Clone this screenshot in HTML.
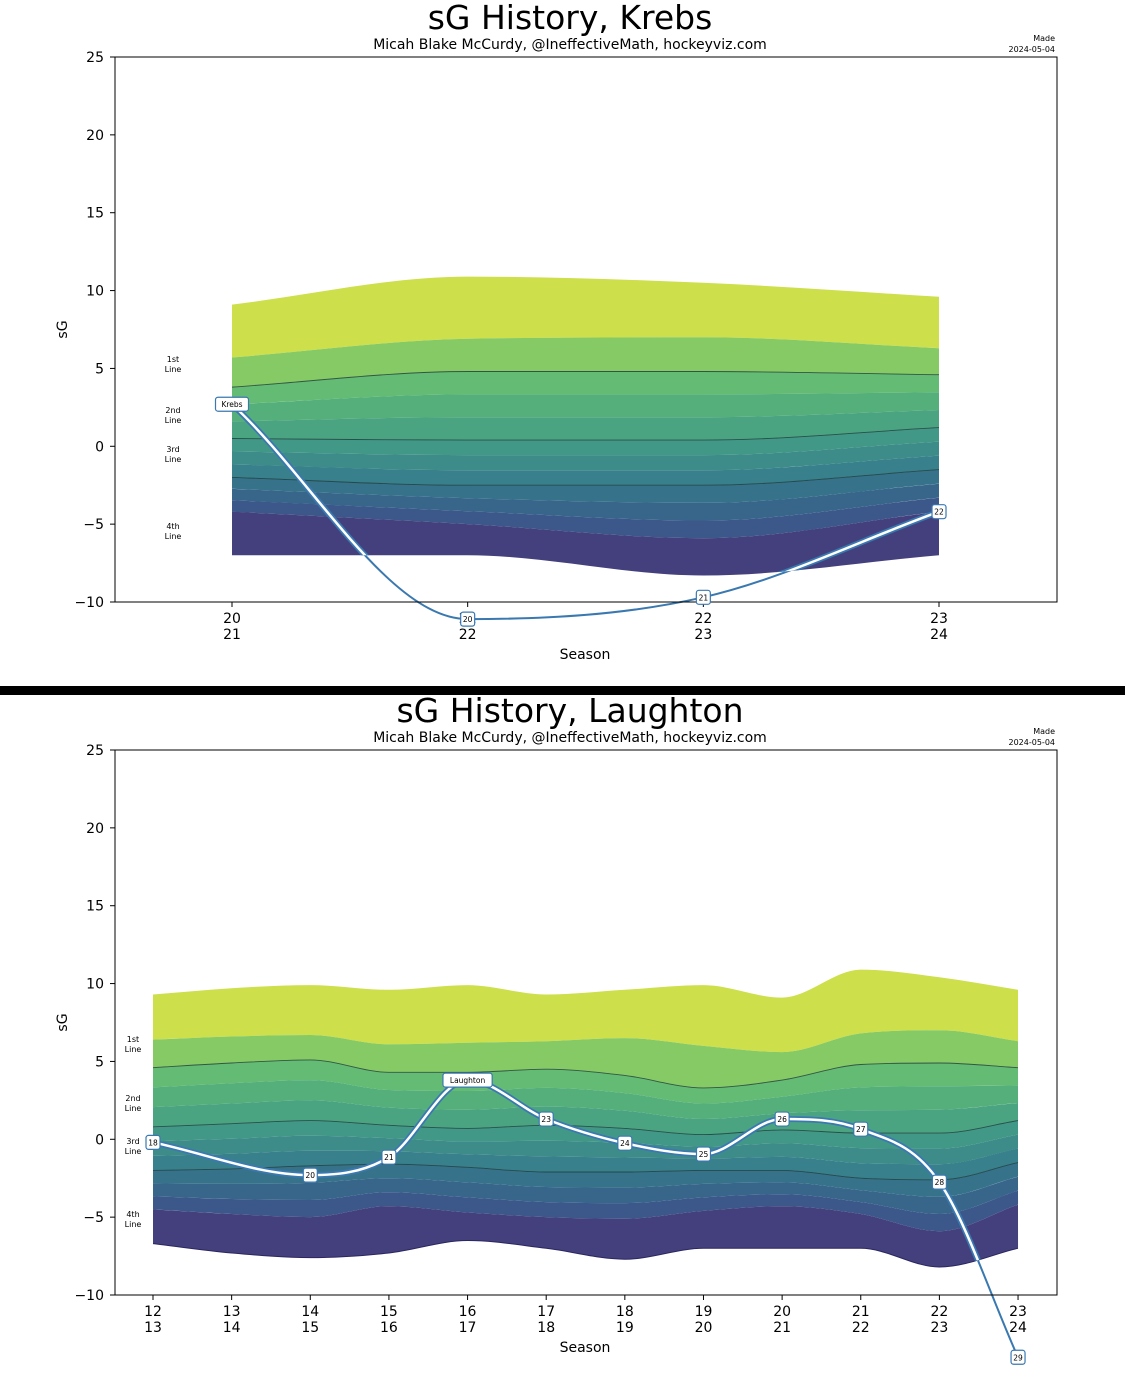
<!DOCTYPE html>
<html><head><meta charset="utf-8"><style>
body{margin:0;background:#fff;width:1125px;height:1378px;overflow:hidden;font-family:"DejaVu Sans",sans-serif}
svg{position:absolute;left:0;top:0}
</style></head><body>
<svg id="s" width="1125" height="1378" xmlns="http://www.w3.org/2000/svg" font-family="DejaVu Sans, sans-serif"></svg>
<script>
const S=document.getElementById('s');let H='';
const cols=['#cddf4b','#86ca66','#64bb74','#55af7b','#4ba481','#429887','#3d8c89','#38808b','#36738b','#38668b','#3c588a','#43407d'];
function curve(pts){
 const n=pts.length;const dx=[],s=[];for(let i=0;i<n-1;i++){dx.push(pts[i+1][0]-pts[i][0]);s.push((pts[i+1][1]-pts[i][1])/dx[i]);}
 const m=new Array(n);m[0]=s[0];m[n-1]=s[n-2];
 for(let i=1;i<n-1;i++){m[i]=(s[i-1]*s[i]<=0)?0:(s[i-1]+s[i])/2;}
 for(let i=0;i<n-1;i++){if(s[i]===0){m[i]=0;m[i+1]=0;continue;}const a=m[i]/s[i],b=m[i+1]/s[i],h=a*a+b*b;if(h>9){const t=3/Math.sqrt(h);m[i]=t*a*s[i];m[i+1]=t*b*s[i];}}
 let d='';
 for(let i=0;i<n-1;i++){const p1=pts[i],p2=pts[i+1],h=dx[i];
  d+=` C${(p1[0]+h/3).toFixed(1)},${(p1[1]+m[i]*h/3).toFixed(1)} ${(p2[0]-h/3).toFixed(1)},${(p2[1]-m[i+1]*h/3).toFixed(1)} ${p2[0].toFixed(1)},${p2[1].toFixed(1)}`;}
 return d;}
function chart(o){
 const top=o.top,bot=top+545,Y=v=>bot-(v+10)*545/35,X=i=>o.x0+i*o.dx,n=o.T.length;
 H+=`<text x="570" y="${top-28}" font-size="33" text-anchor="middle">${o.title}</text>`;
 H+=`<text x="570" y="${top-8}" font-size="14" text-anchor="middle">Micah Blake McCurdy, @IneffectiveMath, hockeyviz.com</text>`;
 H+=`<text x="1055" y="${top-16}" font-size="8" text-anchor="end">Made</text><text x="1055" y="${top-5}" font-size="8" text-anchor="end">2024-05-04</text>`;
 const B=[o.T,o.b1,o.L1];const lerp=(a,b,t)=>a.map((v,i)=>v+(b[i]-v)*t);
 for(const t of [1/3,2/3])B.push(lerp(o.L1,o.L2,t));B.push(o.L2);
 for(const t of [1/3,2/3])B.push(lerp(o.L2,o.L3,t));B.push(o.L3);
 for(const t of [1/3,2/3])B.push(lerp(o.L3,o.b4,t));B.push(o.b4);B.push(o.Bt);
 const P=a=>a.map((v,i)=>[X(i),Y(v)]);
 for(let k=0;k<B.length-1;k++){const up=P(B[k]),lo=P(B[k+1]).reverse();
  const d=`M${up[0][0]},${up[0][1]}`+curve(up)+` L${lo[0][0]},${lo[0][1]}`+curve(lo)+'Z';
  H+=`<path d="${d}" fill="${cols[k]}"/>`;}
 const up=P(o.T),lo=P(o.Bt).reverse();const clip=`M${up[0][0]},${up[0][1]}`+curve(up)+` L${lo[0][0]},${lo[0][1]}`+curve(lo)+'Z';
 H+=`<clipPath id="c${top}"><path d="${clip}"/></clipPath>`;
 for(const L of [o.L1,o.L2,o.L3]){const p=P(L);H+=`<path d="M${p[0][0]},${p[0][1]}${curve(p)}" fill="none" stroke="#1f3a3a" stroke-width="0.9" opacity="0.8"/>`;}
 if(o.BtLine){const p=P(o.Bt);H+=`<path d="M${p[0][0]},${p[0][1]}${curve(p)}" fill="none" stroke="#2a2660" stroke-width="1"/>`;}
 const pp=o.pl.map(q=>[X(q[0]),Y(q[1])]);const pd=`M${pp[0][0]},${pp[0][1]}`+curve(pp);
 H+=`<path d="${pd}" fill="none" stroke="#3a78b0" stroke-width="2"/>`;
 H+=`<g clip-path="url(#c${top})"><path d="${pd}" fill="none" stroke="#3a78b0" stroke-width="6"/><path d="${pd}" fill="none" stroke="#fff" stroke-width="2.5"/></g>`;
 H+=`<rect x="115" y="${top}" width="942" height="545" fill="none" stroke="#000" stroke-width="1"/>`;
 for(let v=-10;v<=25;v+=5){const y=Y(v);H+=`<line x1="110" x2="115" y1="${y}" y2="${y}" stroke="#000"/><text x="104" y="${y+5}" font-size="14" text-anchor="end">${v<0?'\u2212'+(-v):v}</text>`;}
 o.seasons.forEach((s,i)=>{const x=X(i);H+=`<line x1="${x}" x2="${x}" y1="${bot}" y2="${bot+5}" stroke="#000"/><text x="${x}" y="${bot+21}" font-size="14" text-anchor="middle">${s}</text><text x="${x}" y="${bot+37}" font-size="14" text-anchor="middle">${s+1}</text>`;});
 H+=`<text x="585" y="${bot+57}" font-size="14" text-anchor="middle">Season</text>`;
 H+=`<text x="67" y="${Y(7.5)}" font-size="14" text-anchor="middle" transform="rotate(-90 67 ${Y(7.5)})">sG</text>`;
 o.side.forEach(([a,y])=>{H+=`<text x="${o.sx}" y="${y}" font-size="8" text-anchor="middle">${a}</text><text x="${o.sx}" y="${y+10}" font-size="8" text-anchor="middle">Line</text>`;});
 o.pl.forEach((q,i)=>{const lab=q[2];const w=lab.length>2?lab.length*5.4+6:14;const x=X(q[0]),y=Y(q[1]);
  H+=`<rect x="${x-w/2}" y="${y-7}" width="${w}" height="14" rx="2.5" fill="#fff" stroke="#3a78b0" stroke-width="1.2"/><text x="${x}" y="${y+3}" font-size="7.5" text-anchor="middle">${lab}</text>`;});
}
chart({top:57,x0:232,dx:235.67,title:'sG History, Krebs',seasons:[20,21,22,23],
 T:[9.1,10.9,10.5,9.6],b1:[5.7,6.9,7.0,6.3],L1:[3.8,4.8,4.8,4.6],L2:[0.5,0.4,0.4,1.2],L3:[-2.0,-2.5,-2.5,-1.5],b4:[-4.2,-5.0,-5.9,-4.2],Bt:[-7.0,-7.0,-8.3,-7.0],
 pl:[[0,2.7,'Krebs'],[1,-11.1,'20'],[2,-9.7,'21'],[3,-4.2,'22']],sx:173,side:[['1st',362],['2nd',413],['3rd',452],['4th',529]]});
H+=`<rect x="0" y="686" width="1125" height="9" fill="#000"/>`;
chart({top:750,x0:153,dx:78.64,title:'sG History, Laughton',seasons:[12,13,14,15,16,17,18,19,20,21,22,23],BtLine:1,
 T:[9.3,9.7,9.9,9.6,9.9,9.3,9.6,9.9,9.1,10.9,10.4,9.6],
 b1:[6.4,6.6,6.7,6.1,6.2,6.3,6.5,6.0,5.6,6.8,7.0,6.3],
 L1:[4.6,4.9,5.1,4.3,4.3,4.5,4.1,3.3,3.8,4.8,4.9,4.6],
 L2:[0.8,1.0,1.2,0.9,0.7,0.9,0.7,0.3,0.6,0.4,0.4,1.2],
 L3:[-2.0,-1.9,-1.7,-1.6,-1.8,-2.1,-2.1,-2.0,-2.0,-2.5,-2.6,-1.5],
 b4:[-4.5,-4.8,-5.0,-4.3,-4.7,-5.0,-5.1,-4.6,-4.3,-4.8,-5.9,-4.2],
 Bt:[-6.7,-7.3,-7.6,-7.3,-6.5,-7.0,-7.7,-7.0,-7.0,-7.0,-8.2,-7.0],
 pl:[[0,-0.2,'18'],[2,-2.3,'20'],[3,-1.15,'21'],[4,3.8,'Laughton'],[5,1.3,'23'],[6,-0.25,'24'],[7,-0.95,'25'],[8,1.3,'26'],[9,0.65,'27'],[10,-2.75,'28'],[11,-14.0,'29']],
 sx:133,side:[['1st',1042],['2nd',1101],['3rd',1144],['4th',1217]]});
S.innerHTML=H;
</script>
</body></html>
